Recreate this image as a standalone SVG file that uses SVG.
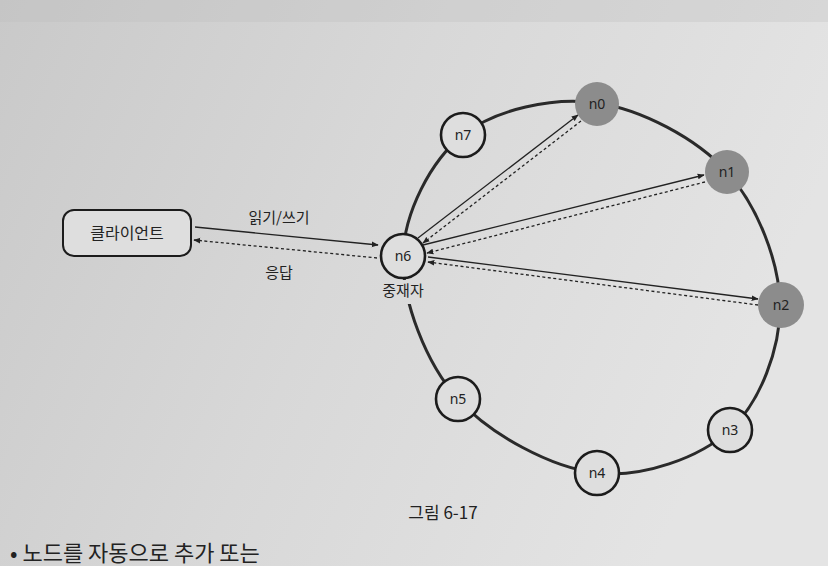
<svg xmlns="http://www.w3.org/2000/svg" width="828" height="566" viewBox="0 0 828 566">
<defs>
<linearGradient id="bg" x1="0" y1="0" x2="1" y2="0.3">
<stop offset="0" stop-color="#c9c9c9"/>
<stop offset="0.5" stop-color="#d8d8d8"/>
<stop offset="1" stop-color="#e4e4e4"/>
</linearGradient>
<mask id="gap">
<rect width="828" height="566" fill="#fff"/>
<rect x="380" y="280" width="46" height="24" fill="#000"/>
</mask>
<marker id="ah" viewBox="0 0 10 10" refX="9" refY="5" markerWidth="7" markerHeight="7" orient="auto-start-reverse" markerUnits="userSpaceOnUse">
<path d="M0,1 L10,5 L0,9 Z" fill="#222"/>
</marker>
<style>
text{font-family:"Noto Sans","Noto Sans CJK KR",sans-serif;fill:#222}
.lbl{font-size:14px;text-anchor:middle}
.kr{font-family:"Noto Sans CJK KR",sans-serif;font-size:15px;text-anchor:middle}
.node{fill:#dedede;stroke:#1c1c1c;stroke-width:2.6}
.hot{fill:#8c8c8c;stroke:none}
.ring{fill:none;stroke:#2a2a2a;stroke-width:3}
.solid{stroke:#222;stroke-width:1.3;fill:none;marker-end:url(#ah)}
.dash{stroke:#222;stroke-width:1.3;fill:none;stroke-dasharray:3 2.5;marker-end:url(#ah)}
</style>
</defs>
<rect width="828" height="566" fill="url(#bg)"/>
<rect width="828" height="22" fill="#bdbdbd" opacity="0.3"/>

<g id="ring" mask="url(#gap)">
<path class="ring" d="M597,103 C641,109.2 696.5,138.3 727,172 C757.5,205.7 779.5,262 780,305 C780.5,348 760.5,402 730,430 C699.5,458 642.3,478.2 597,473 C551.7,467.8 490.3,435 458,399 C425.7,363 402.2,301 403,257 C403.8,213 430.7,160.7 463,135 C495.3,109.3 553,96.8 597,103 Z"/>
</g>

<g id="connectors">
<line class="solid" x1="195" y1="227" x2="378" y2="245"/>
<line class="dash" x1="377" y1="258" x2="194" y2="240"/>
<line class="solid" x1="418" y1="238" x2="578" y2="115"/>
<line class="dash" x1="581" y1="121" x2="423" y2="243"/>
<line class="solid" x1="423" y1="245" x2="704" y2="175"/>
<line class="dash" x1="705" y1="182" x2="427" y2="253"/>
<line class="solid" x1="428" y1="257" x2="758" y2="299"/>
<line class="dash" x1="758" y1="305" x2="428" y2="262"/>
<text class="kr" x="279" y="223">읽기/쓰기</text>
<text class="kr" x="279" y="278">응답</text>
</g>

<g id="client">
<rect x="63" y="210" width="128" height="46" rx="11" fill="#dedede" stroke="#1c1c1c" stroke-width="2"/>
<text class="kr" x="127" y="239" style="font-size:16px">클라이언트</text>
</g>

<g id="n0"><ellipse class="hot" cx="597" cy="104" rx="22" ry="22"/><text class="lbl" x="597" y="109">n0</text></g>
<g id="n1"><ellipse class="hot" cx="727" cy="172" rx="22" ry="22"/><text class="lbl" x="727" y="177">n1</text></g>
<g id="n2"><ellipse class="hot" cx="781" cy="305" rx="23" ry="23"/><text class="lbl" x="781" y="310">n2</text></g>
<g id="n3"><circle class="node" cx="730" cy="430" r="22"/><text class="lbl" x="730" y="435">n3</text></g>
<g id="n4"><circle class="node" cx="597" cy="473" r="22"/><text class="lbl" x="597" y="478">n4</text></g>
<g id="n5"><circle class="node" cx="458" cy="399" r="22"/><text class="lbl" x="458" y="404">n5</text></g>
<g id="n6"><circle class="node" cx="403" cy="256" r="22"/><text class="lbl" x="403" y="261">n6</text>
<text class="kr" x="403" y="296">중재자</text></g>
<g id="n7"><circle class="node" cx="463" cy="135" r="22"/><text class="lbl" x="463" y="140">n7</text></g>

<text class="kr" x="443" y="519" style="font-size:17px">그림 6-17</text>
<text x="10" y="561" style="font-family:'Noto Sans CJK KR',sans-serif;font-size:22px;fill:#222">• 노드를 자동으로 추가 또는</text>
</svg>
